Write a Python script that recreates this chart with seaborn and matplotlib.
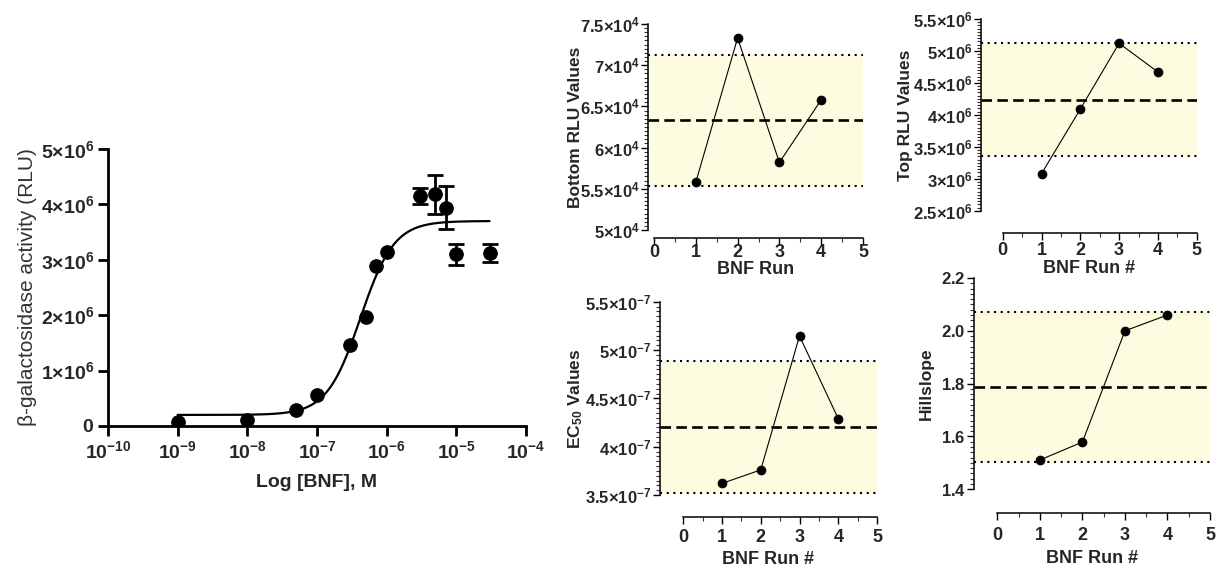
import numpy as np
import pandas as pd
import matplotlib
matplotlib.use("Agg")
import matplotlib.pyplot as plt
import seaborn as sns
from matplotlib.ticker import FixedLocator, AutoMinorLocator, NullLocator

sns.set_theme(style="ticks")
plt.rcParams['font.family'] = ['Liberation Sans', 'DejaVu Sans']
plt.rcParams['mathtext.fontset'] = 'custom'
plt.rcParams['mathtext.rm'] = 'Liberation Sans'
plt.rcParams['mathtext.bf'] = 'Liberation Sans:bold'
plt.rcParams['mathtext.it'] = 'Liberation Sans:italic'

# ---------------- data ----------------
conc = [1e-9, 1e-8, 5e-8, 1e-7, 3e-7, 5e-7, 7e-7, 1e-6, 3e-6, 5e-6, 7e-6, 1e-5, 3e-5]
rlu = [0.07e6, 0.10e6, 0.28e6, 0.56e6, 1.46e6, 1.97e6, 2.89e6, 3.14e6,
       4.15e6, 4.18e6, 3.94e6, 3.10e6, 3.12e6]
rlu_err = [0, 0, 0, 0, 0, 0, 0, 0, 0.14e6, 0.35e6, 0.39e6, 0.19e6, 0.16e6]
fit_bottom, fit_top, fit_ec50, fit_hill = 2.0e5, 3.7e6, 4.2e-7, 1.8

runs = [1, 2, 3, 4]
run_tick_labels = ["0", "1", "2", "3", "4", "5"]
bottom_vals = [5.58e4, 7.33e4, 5.82e4, 6.58e4]
bottom_band = [5.54e4, 6.33e4, 7.12e4]   # lower, mean, upper
top_vals = [3.08e6, 4.09e6, 5.12e6, 4.67e6]
top_band = [3.36e6, 4.24e6, 5.12e6]
ec50_vals = [3.62e-7, 3.76e-7, 5.145e-7, 4.29e-7]
ec50_band = [3.52e-7, 4.20e-7, 4.89e-7]
hill_vals = [1.511, 1.579, 2.00, 2.06]
hill_band = [1.505, 1.788, 2.07]

x_decades = [-10, -9, -8, -7, -6, -5, -4]
y_left_ticks = [0, 1e6, 2e6, 3e6, 4e6, 5e6]

W, H = 1217, 569
fig = plt.figure(figsize=(W / 100, H / 100), dpi=100)
fig.patch.set_facecolor("white")


def sci_label(v, exp):
    if v == 0:
        return r"$\mathbf{0}$"
    m = v / 10 ** exp
    ms = ("%g" % round(m, 2))
    return r"$\mathbf{%s{\times}10^{%d}}$" % (ms, exp)


def rect(x0, y0, x1, y1):
    return [x0 / W, 1 - y1 / H, (x1 - x0) / W, (y1 - y0) / H]


# ---------------- dose-response panel ----------------
ax = fig.add_axes(rect(108, 149, 526, 426))
xs = np.logspace(-9, np.log10(3e-5), 400)
curve = fit_bottom + (fit_top - fit_bottom) / (1 + (fit_ec50 / xs) ** fit_hill)
sns.lineplot(x=xs, y=curve, ax=ax, color="black", lw=1.6, estimator=None)
errdf = pd.DataFrame({"conc": conc, "rlu": rlu, "err": rlu_err})
sub = errdf[errdf.err > 0]
ax.errorbar(sub.conc, sub.rlu, yerr=sub.err, fmt="none", ecolor="black",
            elinewidth=2, capsize=6, capthick=2, zorder=3)
sns.scatterplot(data=errdf, x="conc", y="rlu", ax=ax, color="black", s=95,
                edgecolor="black", zorder=4)
ax.set_xscale("log")
ax.set_xlim(1e-10, 1e-4)
ax.set_ylim(0, 5e6)
for s in ["top", "right"]:
    ax.spines[s].set_visible(False)
for s in ["left", "bottom"]:
    ax.spines[s].set_linewidth(2)
    ax.spines[s].set_color("black")
ax.xaxis.set_major_locator(FixedLocator([10.0 ** d for d in x_decades]))
ax.xaxis.set_minor_locator(NullLocator())
ax.set_xticklabels([r"$\mathbf{10^{%d}}$" % d for d in x_decades], fontsize=14)
ax.yaxis.set_major_locator(FixedLocator(y_left_ticks))
ax.set_yticklabels([sci_label(v, 6) for v in y_left_ticks], fontsize=14)
ax.tick_params(axis="both", direction="out", length=7, width=2, color="black", pad=3)
ax.set_xlabel("Log [BNF], M", fontsize=14, fontweight="bold", labelpad=9)
ax.set_ylabel("β-galactosidase activity (RLU)", fontsize=15, color="#333333", labelpad=3)
ax.set_facecolor("white")


# ---------------- run panels ----------------
def run_panel(box, vals, band, ylim, yticks, ylabels, xlab, ylab, outward, xleft,
              xtpad, xlpad, ylpad):
    a = fig.add_axes(rect(*box))
    a.set_facecolor("white")
    a.axhspan(band[0], band[2], color="#FEFCE0", zorder=0, lw=0)
    a.axhline(band[0], color="black", lw=1.5, ls=(0, (1, 2.2)), zorder=1)
    a.axhline(band[2], color="black", lw=1.5, ls=(0, (1, 2.2)), zorder=1)
    a.axhline(band[1], color="black", lw=1.9, ls=(0, (4, 2)), zorder=1)
    df = pd.DataFrame({"run": runs, "val": vals})
    sns.lineplot(data=df, x="run", y="val", ax=a, color="black", lw=0.8,
                 estimator=None, zorder=2)
    sns.scatterplot(data=df, x="run", y="val", ax=a, color="black", s=42,
                    edgecolor="black", zorder=3)
    a.set_xlim(xleft, 5)
    a.set_ylim(*ylim)
    # spines first (set_position resets the ticks)
    for s in ["top", "right"]:
        a.spines[s].set_visible(False)
    a.spines["bottom"].set_position(("outward", outward))
    a.spines["bottom"].set_bounds(0, 5)
    for s in ["left", "bottom"]:
        a.spines[s].set_linewidth(1.1)
        a.spines[s].set_color("black")
    a.xaxis.set_major_locator(FixedLocator([0, 1, 2, 3, 4, 5]))
    a.xaxis.set_minor_locator(FixedLocator([0.5, 1.5, 2.5, 3.5, 4.5]))
    a.set_xticklabels(run_tick_labels, fontsize=13, fontweight="bold")
    a.yaxis.set_major_locator(FixedLocator(yticks))
    a.yaxis.set_minor_locator(AutoMinorLocator(10))
    a.set_yticklabels(ylabels, fontsize=12)
    a.tick_params(axis="both", which="major", direction="out", length=5, width=1,
                  color="black")
    a.tick_params(axis="both", which="minor", direction="out", length=3, width=0.8,
                  color="#333333")
    a.tick_params(axis="y", which="major", pad=1)
    a.tick_params(axis="x", which="major", pad=xtpad)
    a.set_xlabel(xlab, fontsize=13, fontweight="bold", labelpad=xlpad)
    a.set_ylabel(ylab, fontsize=12.5, fontweight="bold", labelpad=ylpad)
    return a


bt = [5e4, 5.5e4, 6e4, 6.5e4, 7e4, 7.5e4]
run_panel((648, 24, 863, 230), bottom_vals, bottom_band, (5e4, 7.5e4), bt,
          [sci_label(v, 4) for v in bt], "BNF Run", "Bottom RLU Values",
          8 * 0.72, -0.144, -1, 0, -2.5)

tt = [2.5e6, 3e6, 3.5e6, 4e6, 4.5e6, 5e6, 5.5e6]
run_panel((981, 19, 1196.7, 210.7), top_vals, top_band, (2.5e6, 5.5e6), tt,
          [sci_label(v, 6) for v in tt], "BNF Run #", "Top RLU Values",
          22 * 0.72, -0.56, 1.5, 1, 0)

et = [3.5e-7, 4e-7, 4.5e-7, 5e-7, 5.5e-7]
run_panel((660, 301.7, 877, 495), ec50_vals, ec50_band, (3.5e-7, 5.5e-7), et,
          [sci_label(v, -7) for v in et], "BNF Run #", r"EC$_{\mathbf{50}}$ Values",
          22 * 0.72, -0.60, 3.5, 4, 0.5)

ht = [1.4, 1.6, 1.8, 2.0, 2.2]
run_panel((974, 278, 1210, 489.3), hill_vals, hill_band, (1.4, 2.2), ht,
          [r"$\mathbf{%.1f}$" % v for v in ht], "BNF Run #", "Hillslope",
          24 * 0.72, -0.55, 5, 4.5, 5)

fig.savefig("out.png", dpi=100, facecolor="white")
